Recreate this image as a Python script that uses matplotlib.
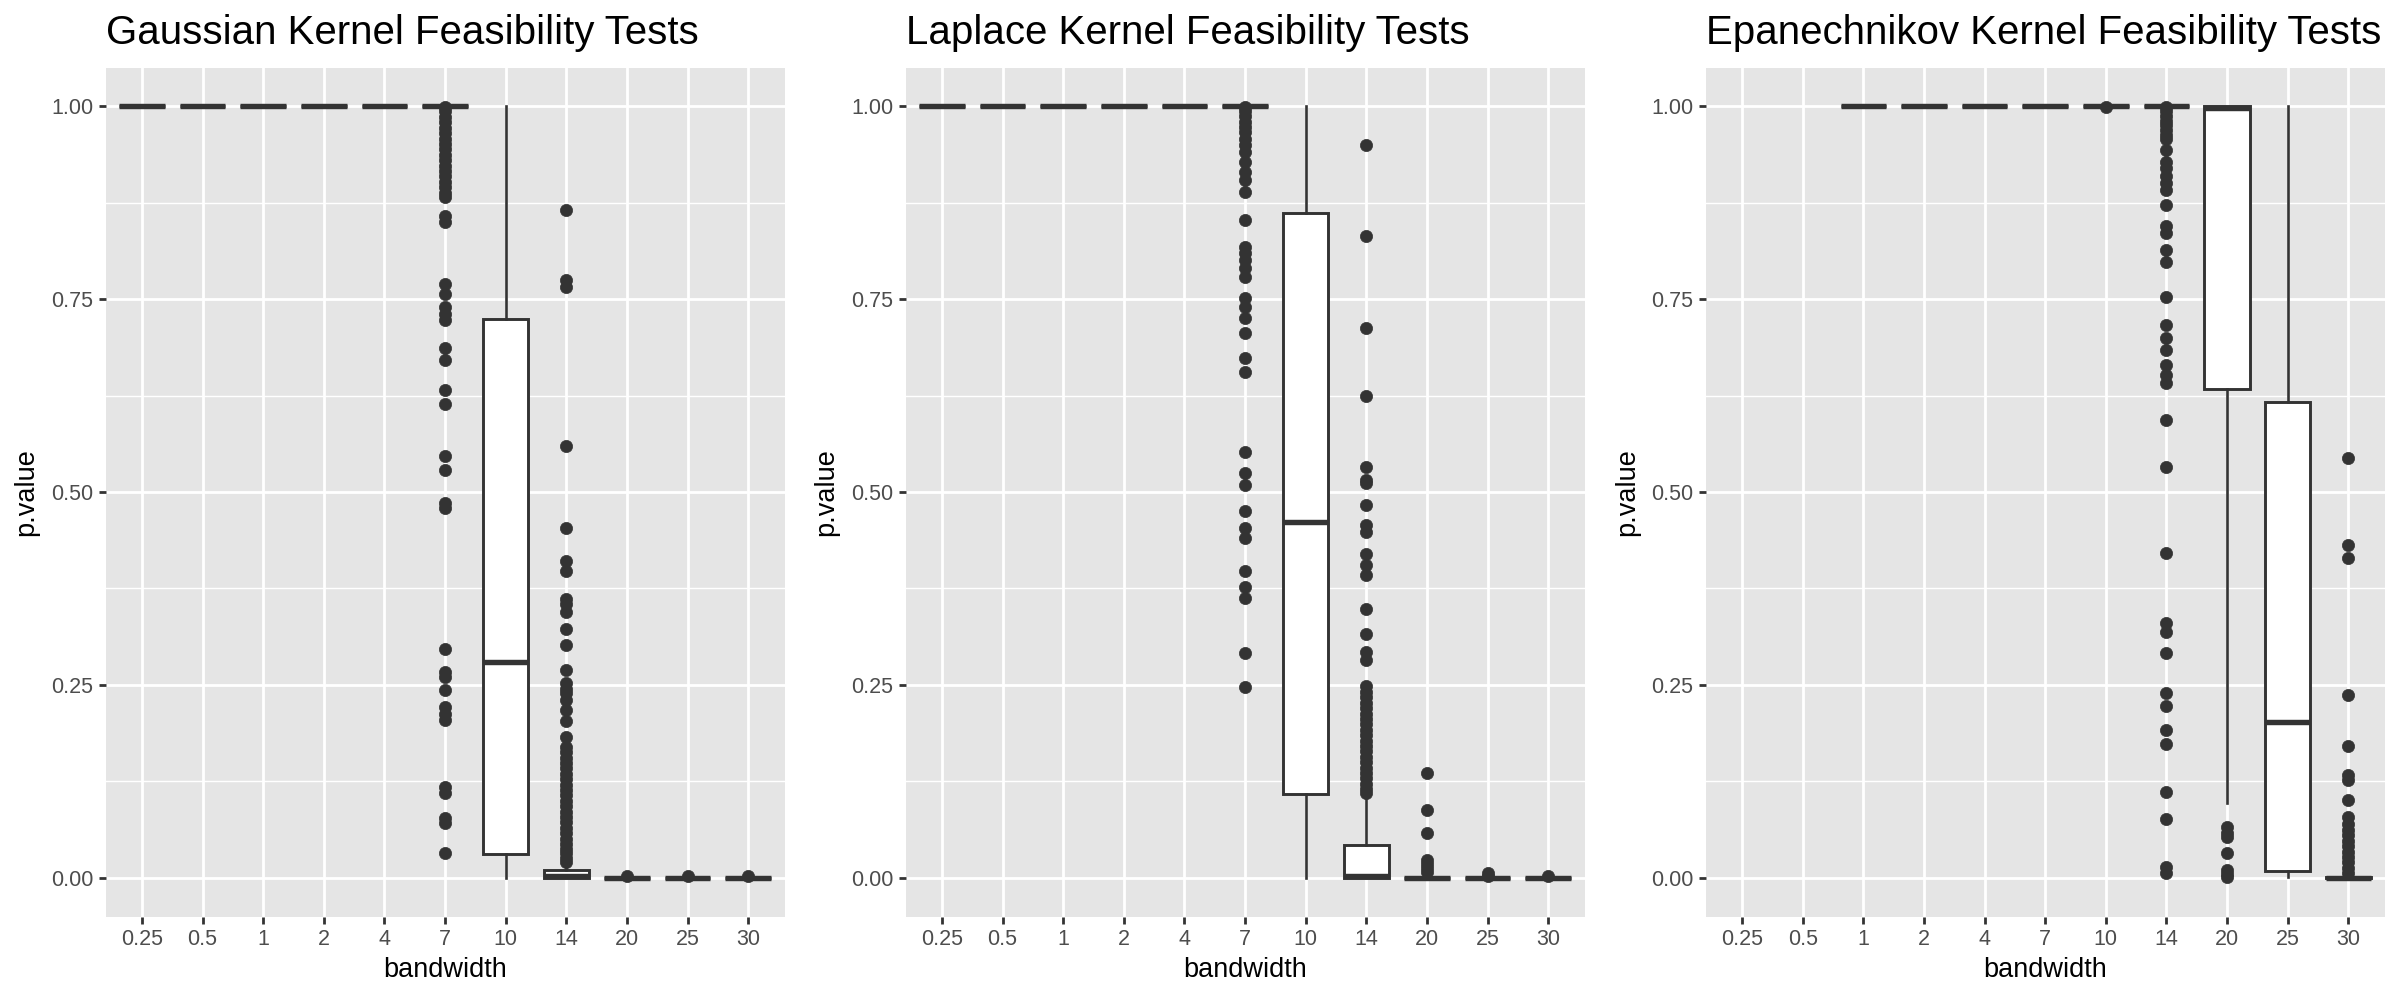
import matplotlib
matplotlib.use("Agg")
from matplotlib import pyplot as plt

plt.rcParams['font.family'] = ['Liberation Sans', 'DejaVu Sans']

bandwidths = ["0.25", "0.5", "1", "2", "4", "7", "10", "14", "20", "25", "30"]

# Gaussian kernel: box stats per bandwidth
gauss_q1 = [1, 1, 1, 1, 1, 1, 0.031, 0.000, 0, 0, 0]
gauss_med = [1, 1, 1, 1, 1, 1, 0.280, 0.002, 0, 0, 0]
gauss_q3 = [1, 1, 1, 1, 1, 1, 0.724, 0.010, 0, 0, 0]
gauss_lo = [1, 1, 1, 1, 1, 1, 0.000, 0.000, 0, 0, 0]
gauss_hi = [1, 1, 1, 1, 1, 1, 1.000, 0.014, 0, 0, 0]
gauss_out_7 = [0.999, 0.993, 0.986, 0.979, 0.972, 0.965, 0.958, 0.951, 0.944, 0.937,
               0.930, 0.923, 0.916, 0.909, 0.902, 0.895, 0.888, 0.882, 0.857, 0.850,
               0.770, 0.757, 0.740, 0.731, 0.723, 0.686, 0.671, 0.632, 0.614, 0.546,
               0.528, 0.486, 0.479, 0.297, 0.267, 0.260, 0.243, 0.222, 0.212, 0.204,
               0.118, 0.110, 0.077, 0.071, 0.032]
gauss_out_14 = [0.865, 0.775, 0.766, 0.559, 0.453, 0.410, 0.397, 0.362, 0.355, 0.345,
                0.323, 0.302, 0.270, 0.252, 0.245, 0.240, 0.230, 0.218, 0.203, 0.183,
                0.170, 0.163, 0.156, 0.149, 0.142, 0.135, 0.128, 0.121, 0.114, 0.107,
                0.100, 0.093, 0.086, 0.079, 0.072, 0.065, 0.058, 0.051, 0.044, 0.038,
                0.032, 0.026, 0.020]
gauss_out_20 = [0.003]
gauss_out_25 = [0.002]
gauss_out_30 = [0.002]

# Laplace kernel
lap_q1 = [1, 1, 1, 1, 1, 1, 0.109, 0.000, 0, 0, 0]
lap_med = [1, 1, 1, 1, 1, 1, 0.461, 0.002, 0, 0, 0]
lap_q3 = [1, 1, 1, 1, 1, 1, 0.861, 0.042, 0, 0, 0]
lap_lo = [1, 1, 1, 1, 1, 1, 0.000, 0.000, 0, 0, 0]
lap_hi = [1, 1, 1, 1, 1, 1, 1.000, 0.102, 0, 0, 0]
lap_out_7 = [0.999, 0.993, 0.987, 0.980, 0.973, 0.966, 0.958, 0.949, 0.940, 0.928,
             0.915, 0.904, 0.889, 0.852, 0.818, 0.810, 0.800, 0.790, 0.779, 0.751,
             0.740, 0.725, 0.706, 0.673, 0.656, 0.552, 0.524, 0.509, 0.476, 0.453,
             0.441, 0.398, 0.377, 0.363, 0.292, 0.247]
lap_out_14 = [0.950, 0.832, 0.713, 0.624, 0.533, 0.515, 0.512, 0.483, 0.457, 0.448,
              0.420, 0.406, 0.392, 0.349, 0.316, 0.293, 0.282, 0.248, 0.241, 0.234,
              0.227, 0.220, 0.213, 0.206, 0.199, 0.192, 0.185, 0.178, 0.171, 0.164,
              0.157, 0.150, 0.143, 0.136, 0.129, 0.122, 0.115, 0.110]
lap_out_20 = [0.136, 0.088, 0.058, 0.023, 0.018, 0.013, 0.008]
lap_out_25 = [0.006, 0.003]
lap_out_30 = [0.002]

# Epanechnikov kernel (no results for 0.25 and 0.5)
epa_q1 = [None, None, 1, 1, 1, 1, 1, 1, 0.633, 0.009, 0]
epa_med = [None, None, 1, 1, 1, 1, 1, 1, 0.997, 0.202, 0]
epa_q3 = [None, None, 1, 1, 1, 1, 1, 1, 1.000, 0.616, 0.001]
epa_lo = [None, None, 1, 1, 1, 1, 1, 1, 0.097, 0.001, 0]
epa_hi = [None, None, 1, 1, 1, 1, 1, 1, 1.000, 1.000, 0.002]
epa_out_10 = [0.999]
epa_out_14 = [0.999, 0.993, 0.987, 0.981, 0.975, 0.969, 0.963, 0.957, 0.943, 0.928,
              0.920, 0.910, 0.900, 0.891, 0.872, 0.844, 0.835, 0.813, 0.798, 0.753,
              0.716, 0.700, 0.684, 0.664, 0.652, 0.641, 0.593, 0.533, 0.421, 0.330,
              0.318, 0.292, 0.240, 0.223, 0.191, 0.174, 0.111, 0.076, 0.014, 0.006]
epa_out_20 = [0.066, 0.058, 0.053, 0.032, 0.010, 0.005, 0.001]
epa_out_30 = [0.544, 0.431, 0.414, 0.237, 0.171, 0.133, 0.127, 0.101, 0.079, 0.070,
              0.062, 0.055, 0.048, 0.041, 0.034, 0.027, 0.020, 0.013, 0.006]

gauss_out = [[], [], [], [], [], gauss_out_7, [], gauss_out_14, gauss_out_20, gauss_out_25, gauss_out_30]
lap_out = [[], [], [], [], [], lap_out_7, [], lap_out_14, lap_out_20, lap_out_25, lap_out_30]
epa_out = [[], [], [], [], [], [], epa_out_10, epa_out_14, epa_out_20, [], epa_out_30]

ink = "#333333"


def draw_panel(ax, title, q1, med, q3, lo, hi, out):
    stats = []
    pos = []
    for i in range(len(bandwidths)):
        if q1[i] is None:
            continue
        stats.append(dict(q1=q1[i], med=med[i], q3=q3[i], whislo=lo[i], whishi=hi[i], fliers=out[i]))
        pos.append(i + 1)
    ax.bxp(stats, positions=pos, widths=0.75, patch_artist=True, showcaps=False,
           boxprops=dict(facecolor="white", edgecolor=ink, linewidth=2.1),
           medianprops=dict(color=ink, linewidth=3.9, solid_capstyle="butt"),
           whiskerprops=dict(color=ink, linewidth=1.9),
           flierprops=dict(marker="o", markerfacecolor=ink, markeredgecolor=ink,
                           markersize=8.8, markeredgewidth=0.5))
    ax.set_xlim(0.4, 11.6)
    ax.set_ylim(-0.05, 1.05)
    ax.set_xticks(range(1, 12))
    ax.set_xticklabels(bandwidths)
    ax.set_yticks([0, 0.25, 0.5, 0.75, 1.0])
    ax.set_yticklabels(["0.00", "0.25", "0.50", "0.75", "1.00"])
    ax.set_yticks([0.125, 0.375, 0.625, 0.875], minor=True)
    ax.set_facecolor("#E5E5E5")
    ax.grid(True, which="major", color="white", linewidth=2.0)
    ax.grid(True, which="minor", axis="y", color="white", linewidth=1.0)
    ax.set_axisbelow(True)
    for s in ax.spines.values():
        s.set_visible(False)
    ax.tick_params(which="major", length=5, width=2.0, color=ink, labelsize=15.5,
                   labelcolor="#4D4D4D", pad=4)
    ax.tick_params(which="minor", length=0)
    ax.set_xlabel("bandwidth", fontsize=19.5, labelpad=5)
    ax.set_ylabel("p.value", fontsize=19.5, labelpad=8)
    ax.set_title(title, loc="left", fontsize=29, pad=17)


fig = plt.figure(figsize=(24, 10), dpi=100)
lefts = [105.6, 905.6, 1705.7]
ax1 = fig.add_axes([lefts[0] / 2400, 0.0835, 679 / 2400, 0.849])
ax2 = fig.add_axes([lefts[1] / 2400, 0.0835, 679 / 2400, 0.849])
ax3 = fig.add_axes([lefts[2] / 2400, 0.0835, 679 / 2400, 0.849])

draw_panel(ax1, "Gaussian Kernel Feasibility Tests", gauss_q1, gauss_med, gauss_q3, gauss_lo, gauss_hi, gauss_out)
draw_panel(ax2, "Laplace Kernel Feasibility Tests", lap_q1, lap_med, lap_q3, lap_lo, lap_hi, lap_out)
draw_panel(ax3, "Epanechnikov Kernel Feasibility Tests", epa_q1, epa_med, epa_q3, epa_lo, epa_hi, epa_out)

fig.savefig("out.png", dpi=100, facecolor="white")
